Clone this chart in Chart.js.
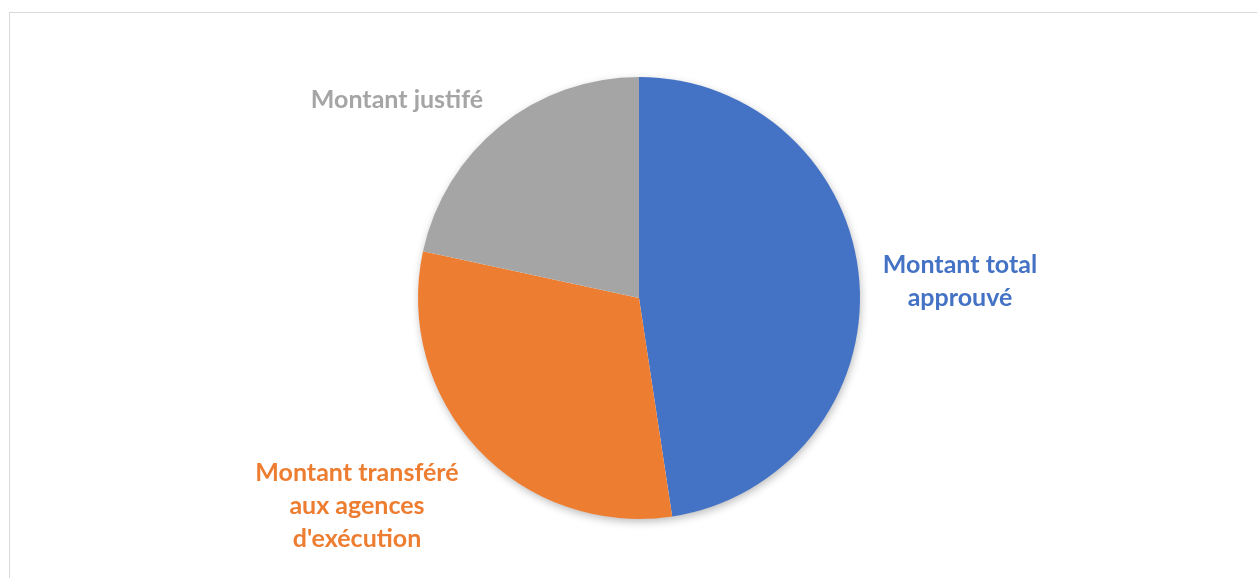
<!DOCTYPE html>
<html>
<head>
<meta charset="utf-8">
<script src="https://cdn.jsdelivr.net/npm/chart.js@4/dist/chart.umd.min.js"></script>
<style>
  html, body { margin: 0; padding: 0; background: #fff; overflow: hidden; }
  #wrap { position: relative; width: 1257px; height: 578px; }
  #frame { position: absolute; left: 9px; top: 12px; width: 1400px; height: 700px;
           border-top: 1px solid #d9d9d9; border-left: 1px solid #d9d9d9; }
  #mainChart { position: absolute; left: 0; top: 0; }
</style>
</head>
<body>
<div id="wrap">
  <div id="frame"></div>
  <canvas id="mainChart" width="1257" height="578"></canvas>
</div>
<script>
// catégories (lignes du libellé) et valeurs
const categories = [
    ['Montant total', 'approuvé'],
    ['Montant transféré', 'aux agences', "d'exécution"],
    ['Montant justifé']
];
const values = [47.6, 30.8, 21.6];
const colors = ['#4472C4', '#ED7D31', '#A5A5A5'];

// ombre légère sous le disque entier
const pieShadow = {
    id: 'pieShadow',
    beforeDatasetsDraw(chart) {
        const arc = chart.getDatasetMeta(0).data[0];
        if (!arc) return;
        const { x, y, outerRadius } = arc.getProps(['x', 'y', 'outerRadius'], true);
        const ctx = chart.ctx;
        ctx.save();
        ctx.shadowColor = 'rgba(0,0,0,0.28)';
        ctx.shadowBlur = 9;
        ctx.shadowOffsetX = 1;
        ctx.shadowOffsetY = 3;
        ctx.fillStyle = '#fff';
        ctx.beginPath();
        ctx.arc(x, y, outerRadius - 0.5, 0, Math.PI * 2);
        ctx.fill();
        ctx.restore();
    }
};

// libellés externes, couleur de la part
const outerLabels = {
    id: 'outerLabels',
    afterDatasetsDraw(chart, args, opts) {
        const meta = chart.getDatasetMeta(0);
        const ctx = chart.ctx;
        ctx.save();
        ctx.font = opts.font;
        ctx.textAlign = 'center';
        ctx.textBaseline = 'middle';
        meta.data.forEach((arc, i) => {
            const { x, y } = arc.getProps(['x', 'y'], true);
            const off = opts.offsets[i];
            const lines = chart.data.labels[i];
            const top = y + off[1] - (lines.length - 1) * opts.lineHeight / 2;
            ctx.fillStyle = colors[i];
            lines.forEach((l, j) => ctx.fillText(l, x + off[0], top + j * opts.lineHeight));
        });
        ctx.restore();
    }
};

new Chart(document.getElementById('mainChart'), {
    type: 'pie',
    data: {
        labels: categories,
        datasets: [{
            data: values,
            backgroundColor: colors,
            borderWidth: 0
        }]
    },
    options: {
        responsive: false,
        animation: false,
        layout: { padding: { top: 77, bottom: 59, left: 21, right: 0 } },
        plugins: {
            legend: { display: false },
            tooltip: { enabled: false },
            outerLabels: {
                font: 'bold 25px Lato',
                lineHeight: 33,
                offsets: [[321, -17], [-282, 208], [-242, -198]]
            }
        }
    },
    plugins: [pieShadow, outerLabels]
});
</script>
</body>
</html>
